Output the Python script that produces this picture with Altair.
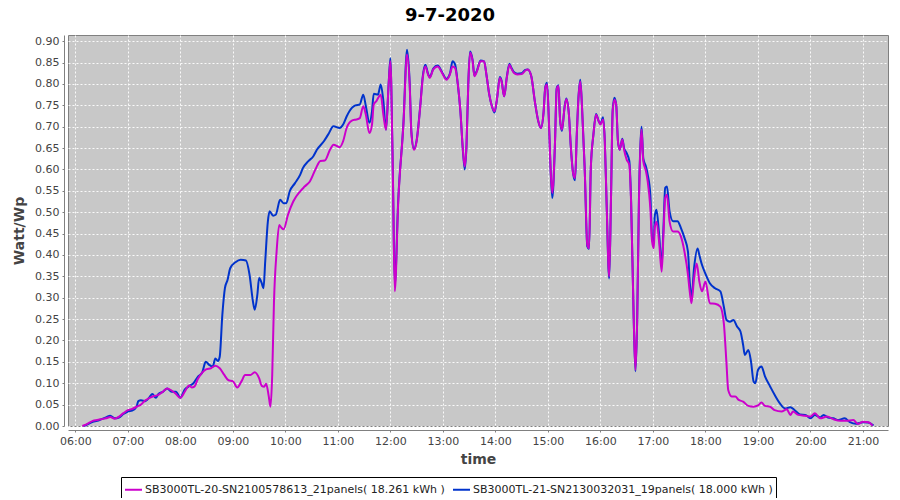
import altair as alt
import pandas as pd

NAME_M = "SB3000TL-20-SN2100578613_21panels( 18.261 kWh )"
NAME_B = "SB3000TL-21-SN2130032031_19panels( 18.000 kWh )"

m_times = ["06:08","06:12","06:16","06:20","06:25","06:30","06:35","06:40","06:45","06:50","06:55",
           "07:00","07:05","07:10","07:15","07:20","07:25","07:30","07:35","07:40","07:45","07:50","07:55",
           "08:00","08:05","08:10","08:13","08:16","08:20","08:25","08:30","08:35","08:40","08:45","08:50","08:55",
           "09:00","09:05","09:10","09:14","09:20","09:25","09:30","09:33","09:36","09:38","09:41","09:43","09:45",
           "09:47","09:50","09:53","09:55","09:58",
           "10:03","10:09","10:17","10:22","10:28","10:35","10:40","10:45","10:51","10:55",
           "11:02","11:06","11:10","11:16","11:21","11:25","11:29","11:32","11:36","11:39","11:41","11:44","11:49",
           "11:52","11:55","11:58",
           "12:00","12:01","12:03","12:05","12:09","12:15","12:19","12:22","12:24","12:27","12:30","12:34","12:37",
           "12:40","12:43","12:45","12:49","12:54","12:59",
           "13:04","13:08","13:11","13:14","13:17","13:20","13:23","13:25","13:27","13:29","13:31","13:34","13:36",
           "13:39","13:43","13:47","13:50","13:53","13:56","13:59",
           "14:02","14:05","14:07","14:10","14:13","14:16","14:18","14:21","14:25","14:30","14:34","14:37","14:41",
           "14:45","14:49","14:52","14:55","14:57","14:59",
           "15:01","15:03","15:05","15:08","15:10","15:12","15:14","15:16","15:19","15:21","15:24","15:26","15:29",
           "15:31","15:33","15:35","15:37","15:39","15:42","15:45","15:47","15:49","15:52","15:55","15:58",
           "16:00","16:03","16:05","16:07","16:10","16:12","16:14","16:16","16:18","16:20","16:22","16:25","16:27",
           "16:30","16:33","16:35","16:38","16:40","16:42","16:44","16:46","16:47","16:49","16:52","16:54","16:57","16:59",
           "17:01","17:02","17:04","17:07","17:10","17:12","17:14","17:16","17:19","17:23","17:28","17:32","17:36",
           "17:40","17:42","17:44","17:47","17:50","17:53","17:56",
           "18:00","18:05","18:11","18:17","18:21","18:24","18:26","18:30","18:34","18:38","18:43","18:49","18:55",
           "19:00","19:04","19:08","19:14","19:19","19:27","19:33","19:37","19:40","19:46","19:54",
           "20:00","20:05","20:11","20:19","20:26","20:34","20:41","20:49","20:54",
           "21:00","21:06","21:11"]
m_vals = [0.000,0.003,0.008,0.012,0.014,0.016,0.018,0.021,0.017,0.022,0.030,
          0.037,0.040,0.045,0.050,0.060,0.066,0.070,0.073,0.080,0.088,0.083,0.075,
          0.066,0.080,0.095,0.090,0.092,0.110,0.125,0.133,0.135,0.141,0.135,0.120,0.107,
          0.105,0.090,0.105,0.119,0.119,0.126,0.112,0.094,0.092,0.099,0.070,0.045,0.120,
          0.290,0.408,0.470,0.465,0.460,
          0.494,0.525,0.549,0.560,0.572,0.603,0.620,0.621,0.646,0.658,
          0.652,0.666,0.697,0.714,0.717,0.720,0.748,0.728,0.685,0.705,0.752,0.760,0.775,
          0.728,0.693,0.799,
          0.853,0.800,0.564,0.315,0.525,0.709,0.869,0.800,0.685,0.646,0.666,0.744,0.814,
          0.841,0.822,0.814,0.834,0.841,0.826,
          0.810,0.822,0.841,0.837,0.800,0.736,0.642,0.607,0.658,0.800,0.873,0.853,0.818,
          0.830,0.853,0.853,0.818,0.775,0.748,0.736,
          0.768,0.814,0.806,0.771,0.814,0.845,0.837,0.826,0.822,0.823,0.831,0.834,0.818,
          0.760,0.713,0.697,0.733,0.791,0.799,
          0.720,0.603,0.545,0.658,0.787,0.795,0.713,0.693,0.744,0.764,0.728,0.658,0.588,
          0.580,0.682,0.770,0.806,0.744,0.603,0.424,0.416,0.603,0.682,0.728,0.713,
          0.705,0.717,0.666,0.525,0.350,0.525,0.736,0.763,0.752,0.666,0.646,0.670,0.646,
          0.623,0.611,0.525,0.252,0.131,0.250,0.525,0.666,0.693,0.619,0.596,0.572,0.510,0.432,
          0.416,0.463,0.478,0.432,0.361,0.447,0.533,0.541,0.478,0.455,0.455,0.443,0.408,
          0.354,0.315,0.287,0.346,0.380,0.338,0.315,
          0.338,0.287,0.286,0.279,0.240,0.147,0.084,0.069,0.069,0.061,0.057,0.047,0.045,
          0.048,0.055,0.047,0.045,0.037,0.034,0.039,0.026,0.034,0.026,0.024,
          0.022,0.030,0.018,0.022,0.016,0.012,0.012,0.014,0.005,
          0.010,0.009,0.001]

b_times = ["06:10","06:15","06:20","06:25","06:30","06:35","06:40","06:45","06:50","06:55",
           "07:00","07:05","07:10","07:12","07:15","07:20","07:25","07:28","07:32","07:35","07:40","07:45","07:50","07:55",
           "08:00","08:05","08:10","08:15","08:20","08:25","08:29","08:33","08:37","08:40","08:43","08:45","08:48",
           "08:51","08:54","08:57",
           "09:03","09:09","09:15","09:19","09:23","09:25","09:28","09:30","09:33","09:35","09:37","09:40","09:42",
           "09:46","09:49","09:54","09:58",
           "10:01","10:05","10:11","10:17","10:20","10:26","10:32","10:36","10:44","10:49","10:55",
           "11:02","11:06","11:10","11:16","11:20","11:25","11:29","11:32","11:36","11:39","11:41","11:46","11:47",
           "11:49","11:52","11:55","11:58",
           "12:00","12:01","12:03","12:05","12:09","12:15","12:19","12:22","12:24","12:27","12:30","12:34","12:37",
           "12:40","12:43","12:45","12:49","12:54","12:59",
           "13:04","13:08","13:11","13:14","13:17","13:20","13:23","13:25","13:27","13:29","13:31","13:34","13:36",
           "13:39","13:43","13:47","13:50","13:53","13:56","13:59",
           "14:02","14:05","14:07","14:10","14:13","14:16","14:18","14:21","14:25","14:30","14:34","14:37","14:41",
           "14:45","14:49","14:52","14:55","14:57","14:59",
           "15:01","15:03","15:05","15:08","15:10","15:12","15:14","15:16","15:19","15:21","15:24","15:26","15:29",
           "15:31","15:33","15:35","15:37","15:39","15:42","15:45","15:47","15:49","15:52","15:55","15:58",
           "16:00","16:03","16:05","16:07","16:10","16:12","16:14","16:16","16:18","16:20","16:22","16:25","16:27",
           "16:30","16:33","16:35","16:38","16:40","16:42","16:44","16:46","16:47","16:49","16:52","16:54","16:57","16:59",
           "17:01","17:02","17:04","17:07","17:10","17:12","17:14","17:16","17:19","17:23","17:28","17:32","17:36",
           "17:40","17:42","17:44","17:47","17:51","17:53","17:56",
           "18:00","18:05","18:11","18:17","18:21","18:24","18:28","18:32","18:36","18:40","18:43","18:45","18:49",
           "18:52","18:55","18:57",
           "19:00","19:04","19:08","19:14","19:19","19:25","19:31","19:37","19:42","19:48","19:54",
           "20:00","20:05","20:11","20:15","20:20","20:26","20:32","20:39","20:45","20:52",
           "21:00","21:06","21:12"]
b_vals = [0.000,0.005,0.010,0.012,0.016,0.020,0.024,0.018,0.020,0.028,
          0.034,0.036,0.045,0.058,0.060,0.058,0.068,0.075,0.066,0.075,0.080,0.088,0.080,0.080,
          0.066,0.085,0.093,0.100,0.115,0.125,0.150,0.143,0.139,0.158,0.152,0.162,0.260,
          0.323,0.342,0.369,
          0.383,0.389,0.387,0.355,0.291,0.272,0.307,0.346,0.334,0.322,0.385,0.478,0.502,
          0.492,0.494,0.529,0.521,
          0.521,0.549,0.568,0.588,0.603,0.619,0.631,0.646,0.666,0.682,0.701,
          0.697,0.705,0.724,0.744,0.750,0.752,0.775,0.748,0.709,0.736,0.777,0.775,0.783,
          0.799,0.760,0.693,0.800,
          0.860,0.800,0.570,0.330,0.530,0.712,0.880,0.805,0.688,0.648,0.668,0.746,0.818,
          0.845,0.824,0.816,0.836,0.843,0.828,
          0.812,0.824,0.853,0.845,0.800,0.736,0.640,0.600,0.658,0.800,0.876,0.855,0.820,
          0.832,0.855,0.853,0.818,0.775,0.748,0.733,
          0.768,0.816,0.808,0.771,0.816,0.847,0.839,0.828,0.824,0.825,0.833,0.834,0.818,
          0.760,0.713,0.697,0.733,0.793,0.803,
          0.720,0.603,0.533,0.658,0.790,0.797,0.713,0.690,0.746,0.766,0.728,0.658,0.588,
          0.575,0.682,0.772,0.810,0.744,0.603,0.420,0.414,0.603,0.682,0.730,0.713,
          0.707,0.722,0.666,0.525,0.345,0.525,0.740,0.768,0.752,0.666,0.646,0.672,0.650,
          0.638,0.620,0.530,0.252,0.128,0.250,0.530,0.672,0.700,0.625,0.607,0.588,0.541,0.440,
          0.428,0.490,0.506,0.450,0.377,0.463,0.557,0.560,0.502,0.479,0.479,0.463,0.440,
          0.408,0.338,0.299,0.370,0.415,0.400,0.377,
          0.356,0.334,0.322,0.315,0.279,0.248,0.244,0.248,0.233,0.221,0.190,0.166,0.178,
          0.151,0.104,0.100,
          0.131,0.139,0.116,0.092,0.073,0.053,0.041,0.044,0.037,0.027,0.026,
          0.018,0.026,0.020,0.026,0.020,0.018,0.014,0.018,0.009,0.005,
          0.009,0.008,0.001]

x_ticks = list(range(6, 22))
y_ticks = [round(0.05 * i, 2) for i in range(19)]


def to_hours(t):
    h, m = t.split(":")
    return int(h) + int(m) / 60.0


df = pd.concat([
    pd.DataFrame({"t": [to_hours(t) for t in b_times], "v": b_vals, "series": NAME_B, "ord": range(len(b_vals))}),
    pd.DataFrame({"t": [to_hours(t) for t in m_times], "v": m_vals, "series": NAME_M, "ord": range(len(m_vals))}),
])

FONT = "DejaVu Sans"

x_enc = alt.X("t:Q", title="time",
              scale=alt.Scale(domain=[5.861, 21.476], nice=False, zero=False),
              axis=alt.Axis(values=x_ticks, offset=4,
                            labelExpr="(datum.value < 10 ? '0' : '') + datum.value + ':00'",
                            titlePadding=6))
y_enc = alt.Y("v:Q", title="Watt/Wp",
              scale=alt.Scale(domain=[0, 0.9145], nice=False),
              axis=alt.Axis(values=y_ticks, format=".2f", offset=4, titlePadding=8))
color_enc = alt.Color("series:N",
                      scale=alt.Scale(domain=[NAME_M, NAME_B], range=["#CC00CC", "#0033CC"]),
                      legend=alt.Legend(title=None, orient="none", legendX=53, legendY=442,
                                        direction="horizontal", columns=2,
                                        symbolType="stroke", symbolSize=289, symbolStrokeWidth=2,
                                        labelFont=FONT, labelFontSize=11, labelColor="#222222",
                                        labelLimit=400, labelOffset=2, columnPadding=4,
                                        strokeColor="black", fillColor="white", padding=3))

base = alt.Chart(df).encode(x=x_enc, y=y_enc, color=color_enc, order="ord:Q")

blue = base.transform_filter(alt.datum.series == NAME_B).mark_line(strokeWidth=2, interpolate="monotone")
mag = base.transform_filter(alt.datum.series == NAME_M).mark_line(strokeWidth=2, interpolate="monotone")

chart = alt.layer(blue, mag).properties(
    width=820, height=391,
    autosize=alt.AutoSizeParams(type="none"),
    padding={"left": 60, "top": 27, "right": 4, "bottom": 72},
    title=alt.TitleParams("9-7-2020", font=FONT, fontSize=18, fontWeight="bold", color="black",
                          anchor="middle", dx=-28, offset=10),
).configure_view(
    fill="#C8C8C8", stroke="#808080", strokeWidth=1
).configure_axis(
    grid=True, gridColor="white", gridDash=[2, 2], gridOpacity=0.9, gridWidth=1,
    domainColor="#808080", tickColor="#808080", tickSize=2,
    labelFont=FONT, labelFontSize=11, labelColor="#444444", labelPadding=3,
    titleFont=FONT, titleFontSize=14, titleFontWeight="bold", titleColor="#444444"
)

chart.save("out.html", embed_options={"renderer": "svg", "actions": False})
